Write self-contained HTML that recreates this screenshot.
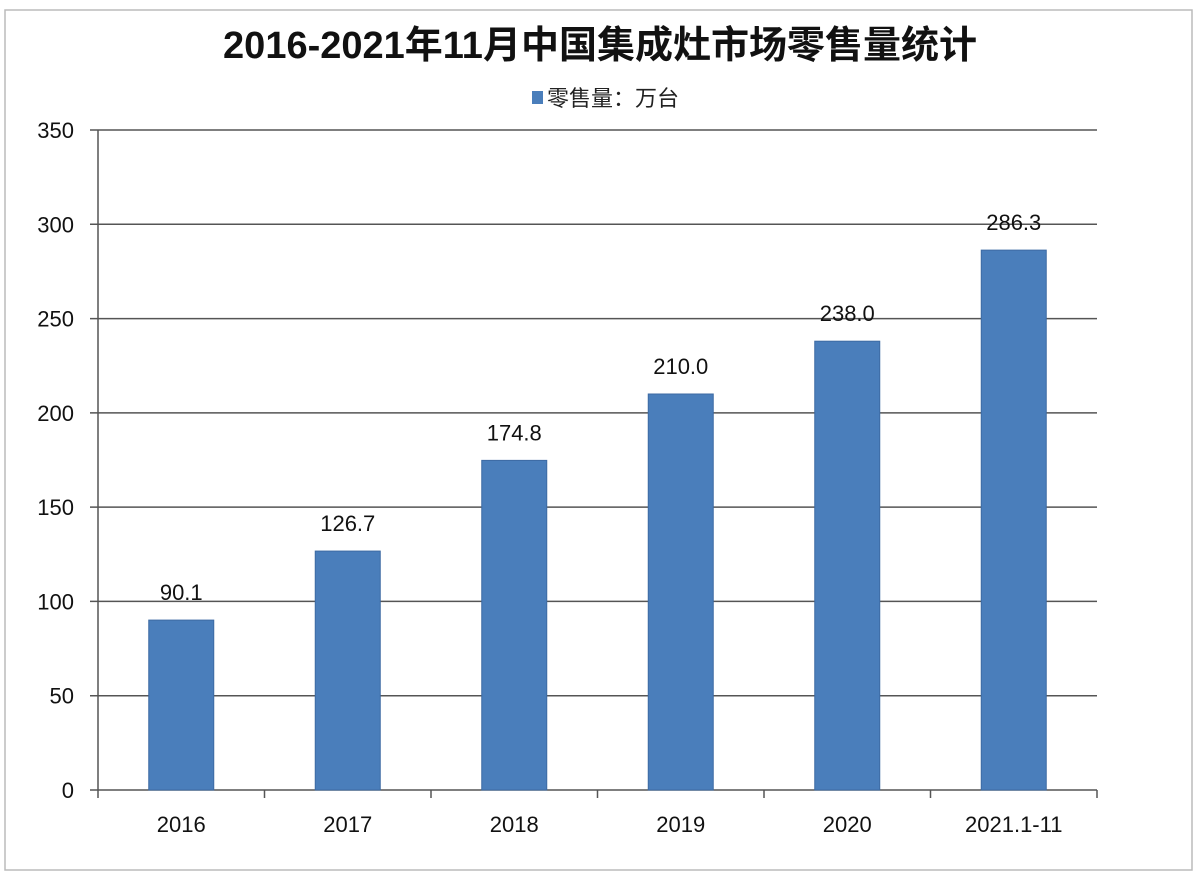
<!DOCTYPE html>
<html><head><meta charset="utf-8"><style>
body{margin:0;background:#fff;}
svg{display:block;font-family:"Liberation Sans","Noto Sans CJK SC",sans-serif;}
</style></head><body>
<svg id="chart" width="1200" height="880">
<rect x="5" y="10" width="1187" height="860" fill="#fff" stroke="#bbb" stroke-width="1.5"/>
<text x="600" y="58" text-anchor="middle" font-size="38" font-weight="bold" fill="#111">2016-2021年11月中国集成灶市场零售量统计</text>
<g>
<rect x="532" y="91" width="11" height="13" fill="#4a7ebb"/>
<text x="547" y="106" font-size="22" fill="#222">零售量：万台</text>
</g>
<g id="plot"></g>
</svg>
<script>
const categories=["2016","2017","2018","2019","2020","2021.1-11"];
const values=[90.1,126.7,174.8,210.0,238.0,286.3];
const valueLabels=["90.1","126.7","174.8","210.0","238.0","286.3"];
const yTicks=[0,50,100,150,200,250,300,350];
const NS="http://www.w3.org/2000/svg";
const g=document.getElementById('plot');
const x0=98,x1=1097,yTop=130,yBot=790,yMax=350;
const y=v=>yBot-(v/yMax)*(yBot-yTop);
const bw=(x1-x0)/categories.length;
function mk(t,a){const e=document.createElementNS(NS,t);for(const k in a)e.setAttribute(k,a[k]);g.appendChild(e);return e;}
yTicks.forEach(t=>{
 const l=mk('line',{x1:x0-8,x2:x1,y1:y(t),y2:y(t),stroke:'#555','stroke-width':1.5});
 
 
 const tx=mk('text',{x:74,y:y(t)+8,'text-anchor':'end','font-size':22,fill:'#111'});
 tx.textContent=t;
 
 
});
const ax=mk('line',{x1:x0,x2:x0,y1:yTop,y2:yBot+8,stroke:'#555','stroke-width':1.5});


categories.forEach((c,i)=>{
 const tk=mk('line',{x1:x0+bw*(i+1),x2:x0+bw*(i+1),y1:yBot,y2:yBot+8,stroke:'#555','stroke-width':1.5});
 
 
 const cx=x0+bw*(i+0.5);
 const r=mk('rect',{x:cx-32.5,y:y(values[i]),width:65,height:yBot-y(values[i]),fill:'#4a7ebb',stroke:'#3d6aa3','stroke-width':1});
 
 
 const vl=mk('text',{x:cx,y:y(values[i])-20,'text-anchor':'middle','font-size':22,fill:'#111'});
 vl.textContent=valueLabels[i];
 
 
 const xl=mk('text',{x:cx,y:832,'text-anchor':'middle','font-size':22,fill:'#111'});
 xl.textContent=c;
 
 
});
</script>
</body></html>
